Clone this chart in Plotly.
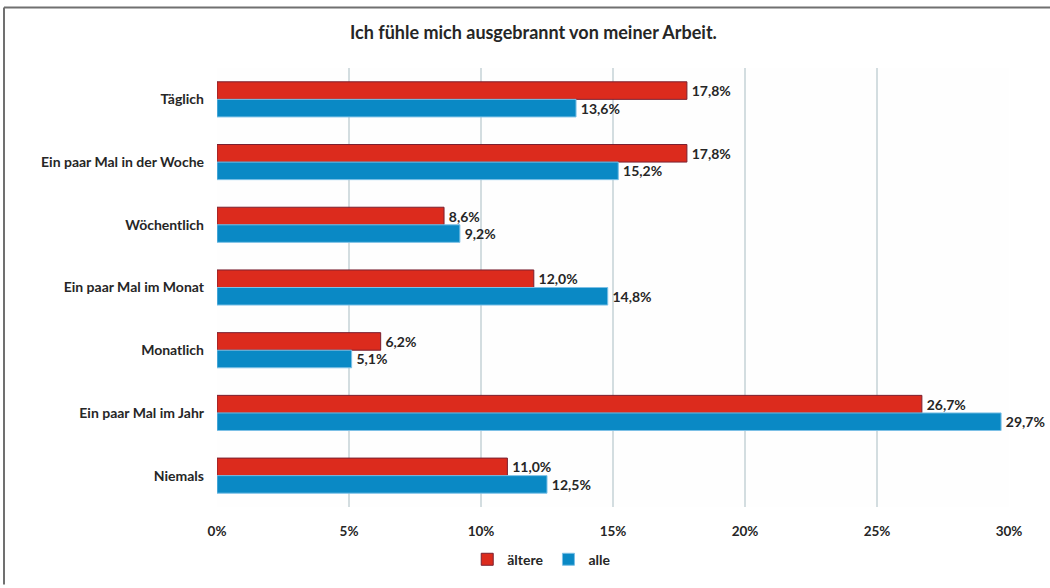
import plotly.graph_objects as go

categories = ["Täglich", "Ein paar Mal in der Woche", "Wöchentlich", "Ein paar Mal im Monat",
              "Monatlich", "Ein paar Mal im Jahr", "Niemals"]
aeltere = [17.8, 17.8, 8.6, 12.0, 6.2, 26.7, 11.0]
alle = [13.6, 15.2, 9.2, 14.8, 5.1, 29.7, 12.5]
tick_vals = [0, 5, 10, 15, 20, 25, 30]
tick_text = ["0%", "5%", "10%", "15%", "20%", "25%", "30%"]


def fmt(v):
    return ("<b>\u2009" + f"{v:.1f}%" + "</b>").replace(".", ",")


font_family = "Lato, 'Open Sans', sans-serif"
txt_color = "#262626"

fig = go.Figure()
fig.add_trace(go.Bar(
    y=categories, x=aeltere, name="<b>ältere</b>", orientation="h",
    marker=dict(color="#dc2b1d", line=dict(color="#7a2030", width=1)),
    text=[fmt(v) for v in aeltere], textposition="outside",
    textfont=dict(family=font_family, size=14, color=txt_color),
    cliponaxis=False,
))
fig.add_trace(go.Bar(
    y=categories, x=alle, name="<b>alle</b>", orientation="h",
    marker=dict(color="#0a89c5", line=dict(color="#7cc0e6", width=1)),
    text=[fmt(v) for v in alle], textposition="outside",
    textfont=dict(family=font_family, size=14, color=txt_color),
    cliponaxis=False,
))

fig.update_layout(
    width=1050, height=588,
    barmode="group", bargap=0.44, bargroupgap=0,
    paper_bgcolor="#ffffff", plot_bgcolor="#fefefe",
    margin=dict(l=217, r=41, t=68, b=78),
    title=dict(text="<b>Ich fühle mich ausgebrannt von meiner Arbeit.</b>",
               x=0.508, xanchor="center", y=0.944, yanchor="middle",
               font=dict(family=font_family, size=18, color=txt_color)),
    font=dict(family=font_family, color=txt_color),
    legend=dict(orientation="h", x=0.41, xanchor="center", y=-0.12, yanchor="middle",
                font=dict(family=font_family, size=14, color=txt_color),
                itemwidth=30, traceorder="normal", tracegroupgap=0),
    showlegend=True,
    xaxis=dict(range=[0, 30], tickvals=tick_vals, ticktext=["<b>%s</b>" % t for t in tick_text],
               showgrid=True, gridcolor="#d3dde0", gridwidth=2,
               zeroline=False, showline=False, ticks="", ticklabelstandoff=14,
               tickfont=dict(family=font_family, size=13.5, color=txt_color)),
    yaxis=dict(autorange="reversed", showgrid=False, showline=False, ticks="",
               ticklabelstandoff=12,
               tickmode="array", tickvals=categories,
               ticktext=["<b>%s</b>" % c for c in categories],
               tickfont=dict(family=font_family, size=14, color=txt_color)),
)

# frame lines (left and top)
top_y = (510 - 7) / 442
bot_y = (510 - 588) / 442
left_x = (4 - 217) / 792
right_x = (1050 - 217) / 792
fig.add_shape(type="line", xref="paper", yref="paper",
              x0=left_x, x1=right_x, y0=top_y, y1=top_y,
              line=dict(color="#707070", width=2))
fig.add_shape(type="line", xref="paper", yref="paper",
              x0=left_x, x1=left_x, y0=top_y, y1=bot_y,
              line=dict(color="#707070", width=2))

fig.write_html("out.html", config={"displayModeBar": False},
               post_script="document.body.style.margin='0';document.body.style.padding='0';")
